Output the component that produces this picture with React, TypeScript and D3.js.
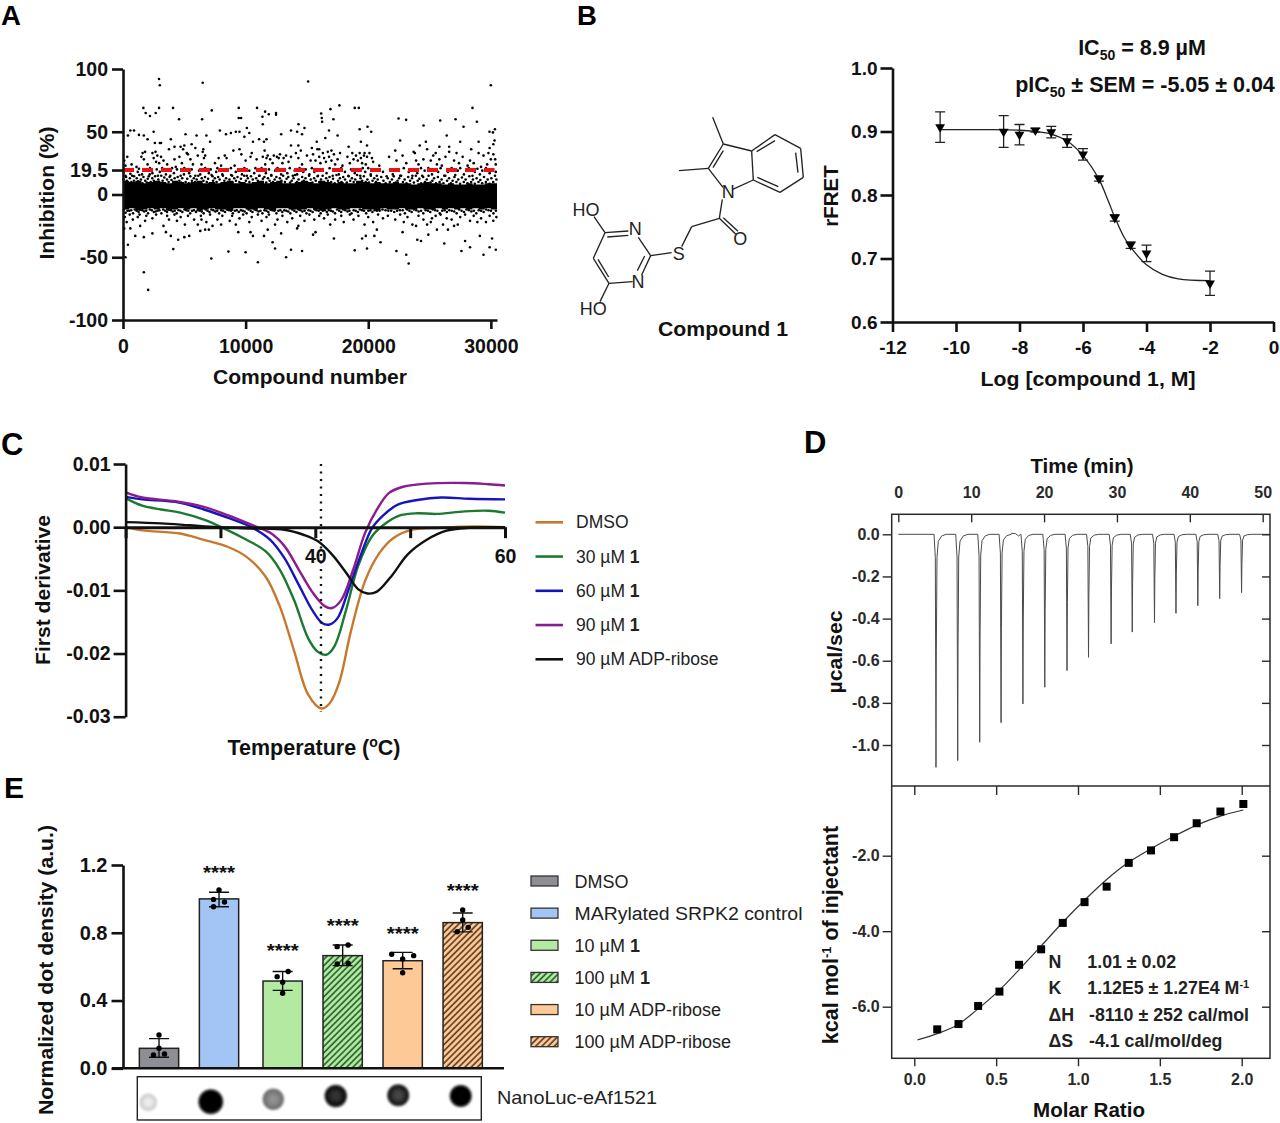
import React, { useEffect, useRef } from 'react';
import * as d3 from 'd3';

type Pt = [number, number];
const SANS = "'Liberation Sans', Arial, sans-serif";

// Panel A. Compound number is stored in hundreds. The solid band is too dense to read
// dot by dot, so it is kept as an envelope per 500 compounds.
const bandHigh = [11, 10, 11, 9, 10, 11, 10, 9, 11, 10, 9, 10, 11, 9, 10, 9, 10, 11, 9, 10, 9, 10, 11, 9, 10, 11, 9, 9, 10, 11, 10, 9, 11, 10, 9, 10, 9, 9, 11, 10, 9, 10, 9, 9, 10, 9, 9, 8, 9, 10, 9, 9, 8, 9, 8, 8, 9, 8, 8, 9, 9, 10];
const bandLow = [-12, -11, -13, -12, -11, -12, -11, -13, -12, -11, -12, -11, -13, -12, -11, -12, -12, -13, -11, -11, -12, -12, -11, -12, -13, -11, -11, -12, -12, -12, -11, -12, -13, -12, -11, -12, -12, -11, -11, -12, -12, -13, -11, -12, -12, -11, -12, -12, -11, -12, -12, -11, -12, -11, -12, -11, -12, -11, -12, -11, -12, -13];
const hitsFar: Pt[] = [[29.4, 92], [30, 87], [65, 89], [151, 90], [300, 87], [16.6, 69], [18.5, 65], [22, 62.5], [26.7, 65], [29.4, 69], [40.8, 69], [45.7, 60], [64.5, 60], [72.4, 67], [94.4, 69], [94.4, 61], [96.3, 61], [109.3, 69], [113.7, 62], [115.9, 66], [118.9, 64], [124.8, 65], [124.8, 63.5], [114, 56], [161.6, 64.5], [162.1, 61], [162.4, 58], [169.2, 68], [171.6, 60], [176.5, 71], [189, 69], [192.3, 69], [230.9, 59.5], [224.7, 60.5], [258.7, 59], [271.2, 60], [285, 69], [288.6, 58], [245.1, 55], [143.1, 56], [199.4, 54], [202.4, 50], [277.7, 54], [303.3, 52], [298.9, 50], [301.7, 49.5],
  [4, 47], [6, 51], [9, 51], [13, 47.5], [17, 47], [20, 44], [25, 50], [26, 41], [30, 41], [31, 41], [39, 44], [42, 38], [47, 38], [49, 36], [51, 48], [50, 39], [53, 32], [56, 40], [59, 37], [60, 47], [65, 34], [68, 47], [71, 42], [79, 51], [84, 48], [88, 49], [92, 50], [95, 50], [99, 46], [101, 53], [103, 49], [106, 42], [111, 44], [115, 42], [117, 44], [129, 48], [137, 51], [142, 50], [146, 48], [137, 39], [148, 53], [143, 39], [154, 37], [160, 36], [165, 45], [158, 42], [168, 51], [175, 47], [170, 35], [184, 38], [193, 52], [194, 42], [199, 39], [226, 43], [238, 33], [247, 42], [242, 39], [258, 38], [266, 38], [264, 47], [275, 42], [284, 36], [290, 42], [299, 37], [302, 40], [303, 43]];
const hitsMid: Pt[] = [[1, 27], [2, 23], [3.5, 30], [7, 24], [11, 22], [15, 30], [16, 33], [17, 28], [18, 34], [20, 24], [24, 33], [25, 29], [26.5, 34], [27, 26], [28, 31], [29.5, 25], [31, 30], [33, 27], [36, 24], [37.5, 36], [42, 28], [43, 22], [46, 30], [48, 25], [52, 33], [55, 28], [57, 24], [61, 31], [64, 24], [65.5, 36], [66, 29], [67, 31], [75, 25], [78, 29], [80, 23], [83, 31], [84.5, 29], [90, 35], [91, 23], [95, 36], [96.5, 32], [100, 27], [104, 30], [105, 33], [109, 28], [114, 30], [115.5, 35], [116, 24], [117, 29], [118, 31], [120, 28], [122, 25], [123, 31], [125.5, 30], [127, 29], [128, 32], [130, 25], [131, 29], [133, 31], [135, 26], [137, 30], [141, 33], [143, 29], [145, 35], [146, 24], [150, 31], [153, 27], [155, 32], [157, 27], [158.5, 36], [160, 30], [161, 25], [163, 33], [164, 29], [165.5, 26], [167, 34], [168, 30], [170, 27], [172, 32], [173, 24], [175, 28], [177, 33], [179, 23], [183, 30], [185, 25], [187, 33], [188, 28], [190, 31], [191.5, 27], [193, 33], [194, 29], [195, 25], [196.5, 31], [197, 33], [198, 24], [199, 30], [201, 33], [203, 29], [204, 26], [209, 23], [217, 30], [222, 35], [223, 27], [228, 31], [231, 25], [237, 34], [239, 27], [241, 24], [245, 28], [248, 36], [251, 27], [253, 31], [255, 33], [256, 24], [258, 28], [260, 23], [263, 30], [266, 34], [270, 27], [272, 33], [274, 25], [277, 30], [281, 23], [283, 27], [286, 25], [290, 33], [292, 22], [294, 31], [297, 24], [298, 33], [300, 28], [302, 32], [303.5, 28], [304, 24]];
const hitsNear: Pt[] = [[0.5, 18], [2, 15], [5, 20], [6, 16.5], [9, 14.5], [12, 18], [13, 20.5], [15.5, 16], [19, 19], [21, 14.5], [22, 21], [24, 17], [27.5, 20], [28.5, 15], [30, 18], [32, 21], [35, 16], [36.5, 19], [38, 14], [40, 21], [41.5, 17], [44, 20], [47, 15], [49, 19], [50, 21], [54, 17], [56, 20], [59, 15], [62, 19], [63, 16], [67, 21], [70, 17], [71.5, 20], [73, 14.5], [76, 18], [77, 21], [81, 16], [85, 19], [88, 21], [89, 15], [92, 18], [94, 20], [97, 16], [99, 21], [101, 15], [103, 19], [107, 17], [108, 21], [111, 15], [112.5, 19], [113, 21], [116.5, 17], [119, 20], [121, 15], [124, 19], [126, 21], [129, 16], [132, 20], [134, 17], [136, 21], [138.5, 15], [140, 19], [142, 16], [144, 21], [147, 18], [149, 20], [152, 16], [154, 21], [156, 18], [159, 15], [162, 20], [166, 17], [168.5, 21], [171, 15], [174, 19], [176, 16], [178, 21], [181, 18], [184, 14.5], [186, 20], [189, 17], [192, 20], [193.5, 15], [195.5, 21], [197.5, 18], [200, 21], [202, 16], [205, 19], [207, 15], [212, 18], [215, 14.5], [218, 20], [220, 16], [224, 19], [226, 15], [229, 21], [233, 18], [236, 15], [238, 20], [240, 17], [243, 21], [244, 15], [246, 19], [249, 21], [252, 16], [254, 20], [257, 18], [259, 21], [262, 15], [265, 18], [268, 21], [271, 15.5], [273, 19], [275, 21], [278, 16], [280, 19], [282, 21], [285, 15], [287, 18], [289, 20.5], [291, 16], [293, 19], [296, 21], [299, 17], [301, 20], [304, 18]];
const hitsEdgeUp: Pt[] = [[0.4, 12], [1.2, 9], [2.5, 14], [3.1, 11], [4.2, 9.5], [5.6, 13], [6.8, 10], [7.4, 15], [8.9, 11], [10.1, 9], [11.2, 13], [12.4, 10.5], [13.3, 15.5], [14.6, 12], [15.9, 9], [16.7, 14], [18.1, 11], [19.4, 9.5], [20.2, 12.5], [21.8, 16], [22.6, 10], [23.9, 13], [25.1, 11], [26.2, 14.5], [27.3, 9], [28.8, 12], [29.6, 10], [31.2, 15], [32.3, 11], [33.7, 13.5], [34.4, 9], [35.9, 12], [37.2, 10], [38.6, 15], [39.5, 11.5], [40.8, 9], [42.1, 13], [43.3, 10], [44.6, 14], [45.9, 11], [47.4, 9.5], [48.3, 13], [49.7, 16], [51.1, 10], [52.4, 12.5], [53.6, 9], [54.9, 14.5], [56.2, 11], [57.8, 13], [58.7, 10], [60.1, 12], [61.4, 15], [62.9, 9.5], [64.2, 13], [65.6, 11], [66.9, 14], [68.3, 10], [69.4, 12.5], [70.7, 9], [72.2, 15.5], [73.5, 11], [74.9, 13], [76.3, 10], [77.6, 14], [78.8, 12], [80.3, 9], [81.5, 15], [82.7, 11], [84.1, 13], [85.4, 10], [86.8, 12], [88.2, 15.5], [89.3, 9.5], [90.7, 13], [92.1, 11], [93.4, 14], [94.9, 10], [96.2, 12.5], [97.7, 9], [98.9, 15], [100.2, 11], [101.8, 13], [103.1, 10], [104.4, 14.5], [105.8, 12], [107.3, 9], [108.6, 13], [109.9, 11], [111.4, 15], [112.7, 10], [114.1, 12.5], [115.3, 14], [116.8, 9.5], [118.2, 13], [119.6, 11], [120.9, 15.5], [122.3, 10], [123.7, 12], [125.1, 14], [126.4, 9], [127.9, 13], [129.2, 11], [130.6, 15], [132.1, 10], [133.4, 12.5], [134.8, 14], [136.3, 9.5], [137.6, 11], [139.1, 13], [140.4, 15.5], [141.9, 10], [143.2, 12], [144.7, 9], [146.1, 14], [147.4, 11], [148.8, 13], [150.2, 10], [151.7, 15], [153.1, 12], [154.4, 9.5], [155.9, 13], [157.2, 11], [158.7, 14.5], [160.1, 10], [161.5, 12], [162.8, 15], [164.3, 9], [165.7, 13], [167.1, 11], [168.4, 14], [169.8, 10], [171.3, 12.5], [172.6, 9], [174.1, 15.5], [175.4, 11], [176.9, 13], [178.2, 10], [179.6, 14], [181.1, 12], [182.5, 9.5], [183.8, 15], [185.3, 11], [186.7, 13], [188.1, 10], [189.4, 12], [190.9, 15.5], [192.3, 9], [193.7, 13], [195.1, 11], [196.4, 14.5], [197.9, 10], [199.3, 12], [200.6, 9.5], [202.1, 15], [203.5, 11], [204.9, 13], [206.3, 10], [207.7, 12], [209.1, 9], [210.6, 14], [212.4, 11], [214.2, 9], [215.9, 13], [217.6, 10], [219.3, 12], [220.8, 14.5], [222.4, 9.5], [223.9, 11], [225.2, 13], [226.8, 15], [228.3, 10], [229.7, 12], [231.2, 9], [232.6, 14], [234.1, 11], [235.7, 13], [237.2, 9.5], [238.8, 15], [240.3, 11], [241.7, 12.5], [243.2, 9], [244.8, 14], [246.3, 10], [247.7, 12], [249.2, 15], [250.8, 9.5], [252.3, 11], [253.7, 13], [255.3, 9], [256.8, 14], [258.2, 10], [259.8, 12], [261.3, 9], [262.8, 15], [264.3, 11], [265.9, 13], [267.4, 9], [268.8, 11], [270.3, 14], [271.9, 10], [273.4, 12], [274.9, 8.5], [276.4, 13.5], [277.9, 10], [279.4, 12], [280.9, 9], [282.4, 14.5], [283.9, 10], [285.4, 12], [286.9, 8.5], [288.4, 13], [289.9, 10], [291.4, 11.5], [292.9, 9], [294.4, 14], [295.9, 10], [297.4, 12], [298.9, 8.5], [300.4, 13], [301.9, 10], [303.4, 15], [304.5, 12]];
const hitsEdgeDown: Pt[] = [[0.8, -12], [2.1, -14.5], [3.6, -13], [5.1, -13], [6.7, -12.5], [8.2, -15], [9.6, -12], [11.1, -13], [12.7, -14], [14.2, -12], [15.8, -12.5], [17.3, -13.5], [18.9, -13], [20.4, -15], [21.9, -12], [23.5, -12.5], [25.1, -14], [26.6, -13.5], [28.2, -13], [29.7, -12.5], [31.3, -15], [32.8, -12], [34.4, -13], [35.9, -14], [37.5, -12], [39.1, -12.5], [40.6, -13.5], [42.2, -13], [43.8, -15], [45.3, -12.5], [46.9, -13], [48.4, -14], [50.1, -12], [51.6, -12.5], [53.2, -13], [54.8, -15], [56.3, -13], [57.9, -12.5], [59.5, -14], [61.1, -12.5], [62.6, -13], [64.2, -13.5], [65.8, -15], [67.4, -12], [68.9, -13], [70.5, -14], [72.1, -12], [73.7, -12.5], [75.3, -13.5], [76.8, -13], [78.4, -15], [80.1, -12.5], [81.6, -13], [83.2, -14], [84.8, -12], [86.4, -12.5], [88.1, -13], [89.6, -15], [91.2, -13], [92.8, -12.5], [94.4, -14], [96.1, -12.5], [97.6, -13], [99.2, -13.5], [100.8, -15], [102.4, -12], [104.1, -13], [105.6, -14], [107.3, -12], [108.9, -12.5], [110.5, -13.5], [112.1, -13], [113.7, -15], [115.3, -12.5], [116.9, -13], [118.5, -14], [120.2, -12], [121.8, -12.5], [123.4, -13], [125.1, -15], [126.7, -13], [128.3, -12.5], [129.9, -14], [131.6, -12.5], [133.2, -13], [134.8, -13.5], [136.5, -15], [138.1, -12], [139.7, -13], [141.4, -14], [143.1, -12], [144.7, -12.5], [146.3, -13.5], [148.1, -13], [149.6, -15], [151.3, -12.5], [152.9, -13], [154.6, -14], [156.3, -12], [157.9, -12.5], [159.6, -13], [161.2, -15], [162.9, -13], [164.6, -12.5], [166.2, -14], [167.9, -12.5], [169.6, -13], [171.2, -13.5], [172.9, -15], [174.6, -12], [176.3, -13], [177.9, -14], [179.6, -12], [181.3, -12.5], [183.1, -13.5], [184.7, -13], [186.4, -15], [188.1, -12.5], [189.8, -13], [191.5, -14], [193.2, -12], [194.9, -12.5], [196.6, -13], [198.3, -15], [200.1, -13], [201.7, -12.5], [203.4, -14], [205.2, -12.5], [207.1, -13], [209.3, -13], [211.6, -12], [214.1, -12.5], [216.4, -13], [218.7, -13], [221.2, -14], [223.5, -13], [225.8, -12.5], [228.1, -12.5], [229.9, -15], [231.7, -12], [233.6, -13], [235.4, -14], [237.3, -12], [239.2, -12.5], [241.1, -13.5], [243.1, -13], [244.9, -15], [246.8, -12.5], [248.7, -13], [250.6, -14], [252.6, -12], [254.5, -12.5], [256.4, -13], [258.3, -15], [260.3, -13], [262.2, -12.5], [264.1, -14], [266.1, -12.5], [268.1, -13], [270.1, -13.5], [272.1, -15], [274.1, -12], [276.1, -13], [278.1, -14], [280.1, -12], [282.1, -12.5], [284.1, -13.5], [286.1, -13], [288.1, -15], [290.1, -12.5], [292.1, -13], [294.1, -14], [296.1, -12], [298.1, -12.5], [300.1, -13], [302.1, -15], [304.1, -13]];
const hitsUnder: Pt[] = [[1.5, -18], [3, -22], [5.5, -16], [8, -20], [12, -18], [13.5, -16], [18, -21], [19, -17], [24, -19], [27, -16], [33, -25], [36, -17], [37.5, -20], [42, -16], [44, -21], [47, -18], [50.5, -24], [53, -17], [58, -20], [61, -24], [63.5, -17], [64, -20], [67, -28], [68, -22], [71, -16], [73, -25], [77, -20], [80, -24], [81, -17], [87, -21], [89, -17], [92, -24], [95, -19], [98, -16], [103, -22], [105, -18], [110, -16], [113, -21], [117, -18], [119, -16], [124, -24], [126, -20], [130, -17], [134, -22], [138, -19], [143, -25], [144.5, -17], [148, -21], [152, -16], [156, -20], [160, -17], [164, -19], [167, -16], [169, -24], [173, -20], [178, -17], [180, -22], [185, -16], [188, -20], [192, -17], [197, -24], [200, -18], [204, -22], [208, -16], [212, -19], [216, -17], [222, -20], [226, -16], [229, -22], [232, -18], [236, -24], [239, -25], [241, -17], [245, -20], [248, -24], [251, -22], [252, -19], [255, -17], [259, -16], [261, -24], [264, -19], [268, -20], [273, -24], [275, -18], [279, -16], [283, -21], [286, -17], [289, -22], [292, -19], [296, -22], [299, -17], [302, -21], [304.5, -18]];
const hitsLow: Pt[] = [[1, -27], [2, -50], [4, -40], [6, -27], [10, -33], [14, -25], [17, -34], [17, -62], [20.5, -76], [24, -31], [35, -30], [39, -33], [41, -43.5], [45, -36], [50, -34], [54, -33], [63, -29], [70, -28], [72, -51], [86, -45.5], [94, -30], [100, -46], [104, -30], [106, -33], [110, -54], [115, -33], [118, -28], [122, -38], [124, -43], [129, -31], [133, -50], [137, -44], [142, -27], [146, -45], [155, -32], [157, -30], [172, -35], [189, -44.5], [195, -35], [199, -43], [198, -33], [205, -33], [207, -28], [210, -38], [223, -45], [228, -30], [231, -48], [233, -55], [240, -36], [243, -37], [249, -32], [256, -28], [262, -39], [265, -28], [270, -25], [276, -45], [279, -37], [283, -42], [291, -33], [294, -48], [299, -42], [301, -35], [304, -44]];
const hitThreshold = 19.5;

// Panel B
const doseLog = [-10.5, -8.5, -8, -7.5, -7, -6.5, -6, -5.5, -5, -4.5, -4, -2];
const doseMean = [0.907, 0.9, 0.895, 0.902, 0.899, 0.885, 0.864, 0.826, 0.764, 0.721, 0.708, 0.661];
const doseErr = [0.024, 0.025, 0.016, 0.003, 0.009, 0.01, 0.009, 0.004, 0.005, 0.005, 0.013, 0.019];
const fitLog = [-10.5, -9, -8, -7.5, -7, -6.5, -6, -5.5, -5.2, -5, -4.7, -4.5, -4, -3.5, -3, -2];
const fitFret = [0.903, 0.903, 0.902, 0.9, 0.896, 0.885, 0.862, 0.825, 0.79, 0.765, 0.733, 0.718, 0.69, 0.675, 0.668, 0.665];

// Panel C
const meltNames = ['DMSO', '30 µM ', '60 µM ', '90 µM ', '90 µM ADP-ribose'];
const meltBold = ['', '1', '1', '1', ''];
const meltColors = ['#c8782c', '#1c7a30', '#1616b8', '#8a1c90', '#111111'];
const meltDmso: Pt[] = [[20, 0], [21.75, -0.0005], [25.75, -0.001], [28.25, -0.002], [30.75, -0.0031], [32.75, -0.0047], [34.75, -0.0078], [36.25, -0.0125], [37.75, -0.0195], [39.25, -0.0265], [40.65, -0.0287], [41.5, -0.0279], [42.5, -0.0247], [43.75, -0.0165], [45.25, -0.0085], [46.75, -0.0041], [48.25, -0.0017], [50.25, -0.0004], [53.25, -0.0001], [56.75, 0.0001], [60, 0]];
const melt30: Pt[] = [[20, 0.0046], [21.75, 0.0034], [23.75, 0.0028], [25.75, 0.0023], [28.25, 0.0012], [30.25, -0.0001], [32.75, -0.002], [34.75, -0.0038], [36.25, -0.0067], [37.75, -0.0115], [39.25, -0.0176], [40.25, -0.0197], [41.15, -0.0202], [42, -0.0189], [43.25, -0.0131], [44.5, -0.0062], [46, -0.0014], [47.5, 0.0007], [49, 0.0019], [50.75, 0.0022], [52.75, 0.0021], [55.75, 0.0025], [58.25, 0.0026], [60, 0.0023]];
const melt60: Pt[] = [[20, 0.0048], [21.75, 0.0044], [25.25, 0.004], [28.25, 0.0028], [30.75, 0.0015], [33.25, 0], [35.25, -0.002], [36.75, -0.0049], [38.25, -0.0091], [39.75, -0.0133], [40.75, -0.0152], [41.5, -0.0154], [42.35, -0.0144], [43.5, -0.0099], [44.75, -0.0046], [46, -0.0001], [47.25, 0.002], [48.75, 0.0036], [50.75, 0.0043], [53.25, 0.0047], [56.25, 0.0045], [60, 0.0044]];
const melt90: Pt[] = [[20, 0.0055], [21.75, 0.0047], [25.25, 0.0041], [28.25, 0.0032], [30.75, 0.0019], [33.25, 0.0004], [35.25, -0.0009], [36.75, -0.003], [38.25, -0.0067], [39.75, -0.0104], [41, -0.0125], [41.75, -0.0128], [42.75, -0.0115], [44, -0.0067], [45.25, -0.0009], [46.5, 0.0028], [47.75, 0.0054], [49.25, 0.0064], [51.75, 0.0069], [55.75, 0.007], [58.25, 0.0068], [60, 0.0066]];
const meltAdp: Pt[] = [[20, 0.0008], [23.75, 0.0006], [26.75, 0.0003], [29.75, 0], [33.75, -0.0002], [36.75, -0.0004], [38.75, -0.0012], [40.25, -0.0022], [41.75, -0.0043], [43.25, -0.0072], [44.5, -0.0098], [45.5, -0.0105], [46.5, -0.0102], [48, -0.0078], [49.75, -0.0043], [51.75, -0.002], [53.75, -0.0006], [56.25, -0.0001], [60, 0]];
const meltCurves = [meltDmso, melt30, melt60, melt90, meltAdp];
const meltMidpoint = 40.6;

// Panel D
const injTime = [5.17, 8.15, 11.17, 14.1, 17.1, 20.1, 23.15, 26.1, 29.2, 32.1, 35.15, 38.1, 41.1, 44.1, 47.1];
const injDepth = [-1.106, -1.074, -0.987, -0.894, -0.805, -0.726, -0.647, -0.584, -0.52, -0.464, -0.419, -0.375, -0.339, -0.305, -0.277];
// time after injection (min) and fraction of the peak depth, same for every injection
const injShape: Pt[] = [[-0.27, 0], [-0.09, 0.1], [0, 1], [0.05, 0.5], [0.14, 0.1], [0.32, 0.03], [0.78, 0.007], [1.4, 0]];
const traceBump: Pt[] = [[15.55, 0.005], [16.1, 0.003], [16.5, -0.008], [16.8, 0]];
const ratio = [0.14, 0.27, 0.39, 0.52, 0.64, 0.775, 0.907, 1.04, 1.175, 1.31, 1.446, 1.587, 1.725, 1.87, 2.01];
const heat = [-6.6, -6.46, -5.98, -5.6, -4.89, -4.48, -3.78, -3.23, -2.82, -2.19, -1.86, -1.51, -1.14, -0.83, -0.63];
const itcFitRatio = [0.02, 0.136, 0.26, 0.38, 0.52, 0.666, 0.79, 0.91, 1.03, 1.175, 1.3, 1.44, 1.58, 1.725, 1.87, 2.01];
const itcFitHeat = [-6.88, -6.72, -6.49, -6.09, -5.56, -4.9, -4.32, -3.75, -3.22, -2.63, -2.2, -1.83, -1.5, -1.19, -0.95, -0.79];

// Panel E
const dotGroups = ['DMSO', 'MARylated SRPK2 control', '10 µM ', '100 µM ', '10 µM ADP-ribose', '100 µM ADP-ribose'];
const dotBold = ['', '', '1', '1', '', ''];
const dotMean = [0.118, 1.0, 0.515, 0.665, 0.635, 0.86];
const dotErrHigh = [0.175, 1.039, 0.571, 0.728, 0.684, 0.917];
const dotErrLow = [0.065, 0.954, 0.46, 0.606, 0.588, 0.805];
const dotReps = [[0.197, 0.118, 0.079, 0.085], [1.052, 0.997, 0.982, 0.954], [0.571, 0.541, 0.508, 0.443], [0.728, 0.718, 0.616, 0.62], [0.673, 0.665, 0.645, 0.564], [0.934, 0.875, 0.832, 0.806]];
const dotSpread = [[0, 0, -1, 1], [0, -1, 1, -1], [1, -1, 0, 0], [1, -1, -1, 1], [-2, 2, 0, 0], [0, 0, 1, -1]];
const dotFills = ['#8e8f94', '#a2c5f6', '#b4e9a2', '#b4e9a2', '#fdc997', '#fdc997'];
const dotHatch = ['', '', '', '#235f2b', '', '#5a3a1e'];
const hasStars = [false, true, true, true, true, true];
const starLevel = [0, 1.165, 0.703, 0.851, 0.807, 1.058];
// grey level of the blot spot at its middle and at its rim
const blotCore = [0.04, 1, 0.42, 0.8, 0.72, 1];
const blotRim = [0.16, 1, 0.55, 0.95, 0.92, 1];

// atoms of compound 1, in a 3x grid
const molBonds = [[458, 52, 490, 132], [490, 132, 445, 205], [490, 152, 459, 203], [445, 205, 357, 212], [445, 205, 489, 262], [490, 132, 575, 153], [575, 153, 580, 240], [575, 153, 645, 104], [590, 155, 645, 122], [645, 104, 722, 145], [722, 145, 730, 232], [707, 158, 714, 218], [730, 232, 660, 277], [660, 277, 580, 240], [655, 260, 592, 232], [580, 240, 518, 268], [487, 298, 478, 355], [478, 355, 395, 380], [478, 355, 527, 402], [490, 353, 534, 394], [395, 380, 365, 440], [335, 458, 272, 467], [272, 467, 235, 412], [272, 467, 245, 525], [254, 468, 232, 512], [218, 545, 147, 550], [147, 550, 100, 475], [146, 531, 114, 478], [100, 475, 135, 398], [135, 398, 205, 393], [142, 411, 205, 406], [135, 398, 102, 350], [147, 550, 120, 605]];
const molAtoms: [string, number, number][] = [['N', 505, 293], ['O', 541, 436], ['S', 356, 481], ['N', 226, 406], ['N', 234, 565], ['HO', 78, 349], ['HO', 100, 645]];

type G = d3.Selection<SVGGElement, unknown, null, undefined>;

// d3.format writes a true minus, the figure uses a hyphen
const fixed = (n: number) => (d: any) => d3.format(`.${n}f`)(d).replace('\u2212', '-');

function label(g: any, x: number, y: number, str: string, o: any = {}) {
  const t = g.append('text')
    .attr('x', o.rot ? 0 : x)
    .attr('y', o.rot ? 0 : y)
    .attr('font-family', SANS)
    .attr('font-size', o.size ?? 20.5)
    .attr('font-weight', o.weight ?? 'bold')
    .attr('text-anchor', o.anchor ?? 'middle')
    .attr('fill', o.fill ?? '#111')
    .text(str);
  if (o.rot) t.attr('transform', `translate(${x},${y}) rotate(-90)`);
  if (o.w) t.attr('textLength', o.w).attr('lengthAdjust', 'spacingAndGlyphs');
  return t;
}

function styleAxis(a: any, size: number, stroke = 2.6, color = '#111') {
  a.selectAll('path').attr('stroke-width', stroke).attr('stroke', color);
  a.selectAll('line').attr('stroke-width', stroke).attr('stroke', color);
  a.selectAll('text')
    .attr('font-family', SANS).attr('font-weight', 'bold')
    .attr('font-size', size).attr('fill', color);
}

function panelA(svg: G) {
  const x = d3.scaleLinear().domain([0, 30500]).range([123, 497]);
  const y = d3.scaleLinear().domain([-100, 100]).range([320, 69]);

  const band = d3.area<number>()
    .x((_, i) => x(i * 500))
    .y0((_, i) => y(bandLow[i]))
    .y1(d => y(d))
    .curve(d3.curveStepAfter);
  svg.append('path').attr('d', band(bandHigh)).attr('fill', '#000');

  const dots = [...hitsFar, ...hitsMid, ...hitsNear, ...hitsEdgeUp, ...hitsEdgeDown, ...hitsUnder, ...hitsLow];
  svg.append('g').selectAll('circle').data(dots).join('circle')
    .attr('cx', d => x(d[0] * 100)).attr('cy', d => y(d[1]))
    .attr('r', 1.3).attr('fill', '#000');

  svg.append('line')
    .attr('x1', x(0)).attr('x2', x(30300))
    .attr('y1', y(hitThreshold)).attr('y2', y(hitThreshold))
    .attr('stroke', '#e8141c').attr('stroke-width', 4)
    .attr('stroke-dasharray', '11 8');

  const ax = svg.append('g').attr('transform', `translate(123,0)`)
    .call(d3.axisLeft(y).tickValues([100, 50, 19.5, 0, -50, -100]).tickSize(11).tickSizeOuter(0).tickPadding(4).tickFormat(d => String(d)));
  styleAxis(ax, 19.5);
  const bx = svg.append('g').attr('transform', `translate(0,320)`)
    .call(d3.axisBottom(x).tickValues([0, 10000, 20000, 30000]).tickSize(9).tickSizeOuter(0).tickPadding(10).tickFormat(d => String(d)));
  styleAxis(bx, 19.5);

  label(svg, 54, 193, 'Inhibition (%)', { rot: true, w: 133 });
  label(svg, 310, 384, 'Compound number', { w: 194 });
}

function panelB(svg: G) {
  const x = d3.scaleLinear().domain([-12, 0]).range([892.5, 1273.5]);
  const y = d3.scaleLinear().domain([0.6, 1]).range([322, 68]);

  const line = d3.line<number>().x((_, i) => x(fitLog[i])).y(d => y(d)).curve(d3.curveCatmullRom);
  svg.append('path').attr('d', line(fitFret)).attr('fill', 'none').attr('stroke', '#222').attr('stroke-width', 1.3);

  const pts = svg.append('g').selectAll('g').data(doseLog).join('g')
    .attr('transform', (d, i) => `translate(${x(d)},0)`);
  pts.append('path')
    .attr('d', (_, i) => `M-5,${y(doseMean[i] + doseErr[i])}H5M0,${y(doseMean[i] + doseErr[i])}V${y(doseMean[i] - doseErr[i])}M-5,${y(doseMean[i] - doseErr[i])}H5`)
    .attr('fill', 'none').attr('stroke', '#222').attr('stroke-width', 1.3);
  pts.append('path')
    .attr('d', d3.symbol(d3.symbolTriangle, 42)())
    .attr('transform', (_, i) => `translate(0,${y(doseMean[i])}) rotate(180)`)
    .attr('fill', '#000');

  const ax = svg.append('g').attr('transform', `translate(892.5,0)`)
    .call(d3.axisLeft(y).tickValues([0.6, 0.7, 0.8, 0.9, 1]).tickSize(12).tickSizeOuter(0).tickPadding(3).tickFormat(fixed(1)));
  styleAxis(ax, 19);
  const bx = svg.append('g').attr('transform', `translate(0,322)`)
    .call(d3.axisBottom(x).tickValues([-12, -10, -8, -6, -4, -2, 0]).tickSize(10).tickSizeOuter(0).tickPadding(9).tickFormat(d => String(d)));
  styleAxis(bx, 19);

  label(svg, 838, 196, 'rFRET', { rot: true });
  label(svg, 1088, 386, 'Log [compound 1, M]', { w: 215 });

  const t1 = label(svg, 1142, 55, 'IC', { size: 21.5 });
  t1.append('tspan').attr('dy', 5).attr('font-size', 14).text('50');
  t1.append('tspan').attr('dy', -5).text(' = 8.9 µM');
  const t2 = label(svg, 1145, 92, 'pIC', { size: 21.5 });
  t2.append('tspan').attr('dy', 5).attr('font-size', 14).text('50');
  t2.append('tspan').attr('dy', -5).text(' ± SEM = -5.05 ± 0.04');

  const mol = svg.append('g').attr('transform', 'translate(560,100) scale(0.3333)');
  mol.append('g').selectAll('line').data(molBonds).join('line')
    .attr('x1', d => d[0]).attr('y1', d => d[1]).attr('x2', d => d[2]).attr('y2', d => d[3])
    .attr('stroke', '#222').attr('stroke-width', 4);
  molAtoms.forEach(([s, ax2, ay]) => label(mol, ax2, ay, s, { size: 54, weight: 'normal', fill: '#222' }));
  label(svg, 723, 336, 'Compound 1', { w: 130 });
}

function panelC(svg: G) {
  const x = d3.scaleLinear().domain([20, 60]).range([125.6, 505]);
  const y = d3.scaleLinear().domain([-0.03, 0.01]).range([716.7, 464]);

  const line = d3.line<Pt>().x(d => x(d[0])).y(d => y(d[1])).curve(d3.curveCatmullRom);
  meltCurves.forEach((c, i) => {
    svg.append('path').attr('d', line(c)).attr('fill', 'none')
      .attr('stroke', meltColors[i]).attr('stroke-width', 2.4);
  });
  svg.append('line')
    .attr('x1', x(meltMidpoint)).attr('x2', x(meltMidpoint))
    .attr('y1', y(0.01)).attr('y2', 712)
    .attr('stroke', '#111').attr('stroke-width', 2.4)
    .attr('stroke-dasharray', '2 5.5');

  const bx = svg.append('g').attr('transform', `translate(0,${y(0)})`)
    .call(d3.axisBottom(x).tickValues([20, 30, 40, 50, 60]).tickSize(11).tickSizeOuter(0).tickPadding(11)
      .tickFormat(d => (d === 40 || d === 60 ? String(d) : '')));
  styleAxis(bx, 19.5, 3);
  const ax = svg.append('g').attr('transform', `translate(125.6,0)`)
    .call(d3.axisLeft(y).tickValues([0.01, 0, -0.01, -0.02, -0.03]).tickSize(12).tickSizeOuter(0).tickPadding(3).tickFormat(fixed(2)));
  styleAxis(ax, 19.5);

  label(svg, 50, 590, 'First derivative', { rot: true, w: 150 });
  const t = label(svg, 314, 755, 'Temperature (', { size: 21.5 });
  t.append('tspan').attr('dy', -8).attr('font-size', 14).text('o');
  t.append('tspan').attr('dy', 8).text('C)');

  const rows = d3.scalePoint<string>().domain(meltNames.map((_, i) => String(i))).range([522.3, 659.3]);
  meltNames.forEach((name, i) => {
    const ry = rows(String(i))!;
    svg.append('line').attr('x1', 535.5).attr('x2', 563).attr('y1', ry).attr('y2', ry)
      .attr('stroke', meltColors[i]).attr('stroke-width', 2.6);
    const tx = label(svg, 576, ry + 6, name, { size: 17.5, weight: 'normal', anchor: 'start', fill: '#222' });
    if (meltBold[i]) tx.append('tspan').attr('font-weight', 'bold').text(meltBold[i]);
  });
}

function panelD(svg: G) {
  const frameL = 891.7, frameR = 1270, top = 514.3, mid = 786, bottom = 1058.3;
  const INK = '#2a2a2a';

  // upper thermogram
  const xT = d3.scaleLinear().domain([0, 50]).range([898.3, 1262.7]);
  const yT = d3.scaleLinear().domain([-1, 0]).range([745, 534.3]);
  const trace: Pt[] = [[0, 0], ...traceBump];
  injTime.forEach((t, i) => {
    injShape.forEach(([dt, f]) => trace.push([t + dt, injDepth[i] * f]));
  });
  trace.push([51, 0]);
  trace.sort((a, b) => a[0] - b[0]);
  svg.append('path')
    .attr('d', d3.line<Pt>().x(d => xT(d[0])).y(d => yT(d[1]))(trace))
    .attr('fill', 'none').attr('stroke', '#4a4a4a').attr('stroke-width', 1);

  // lower isotherm
  const xR = d3.scaleLinear().domain([0, 2]).range([914.3, 1241.7]);
  const yH = d3.scaleLinear().domain([-6, -2]).range([1006.7, 855.7]);
  svg.append('path')
    .attr('d', d3.line<number>().x((_, i) => xR(itcFitRatio[i])).y(d => yH(d)).curve(d3.curveCatmullRom)(itcFitHeat))
    .attr('fill', 'none').attr('stroke', '#333').attr('stroke-width', 1.2);
  svg.append('g').selectAll('rect').data(ratio).join('rect')
    .attr('x', d => xR(d) - 4).attr('y', (_, i) => yH(heat[i]) - 4)
    .attr('width', 8).attr('height', 8).attr('fill', '#000');

  svg.append('rect').attr('x', frameL).attr('y', top).attr('width', frameR - frameL).attr('height', bottom - top)
    .attr('fill', 'none').attr('stroke', INK).attr('stroke-width', 1.5);
  svg.append('line').attr('x1', frameL).attr('x2', frameR).attr('y1', mid).attr('y2', mid)
    .attr('stroke', INK).attr('stroke-width', 1.5);

  const axes = [
    svg.append('g').attr('transform', `translate(0,${top})`).call(d3.axisTop(xT).tickValues(d3.range(0, 51, 10)).tickSize(-8).tickSizeOuter(0).tickPadding(16).tickFormat(d => String(d))),
    svg.append('g').attr('transform', `translate(${frameL},0)`).call(d3.axisLeft(yT).tickValues([0, -0.2, -0.4, -0.6, -0.8, -1]).tickSize(9).tickSizeOuter(0).tickPadding(3).tickFormat(fixed(1))),
    svg.append('g').attr('transform', `translate(${frameR},0)`).call(d3.axisRight(yT).tickValues([0, -0.2, -0.4, -0.6, -0.8, -1]).tickSize(-8).tickSizeOuter(0).tickFormat(() => '')),
    svg.append('g').attr('transform', `translate(0,${mid})`).call(d3.axisTop(xR).tickValues([0, 0.5, 1, 1.5, 2]).tickSize(-9).tickSizeOuter(0).tickFormat(() => '')),
    svg.append('g').attr('transform', `translate(0,${bottom})`).call(d3.axisBottom(xR).tickValues([0, 0.5, 1, 1.5, 2]).tickSize(8).tickSizeOuter(0).tickPadding(7).tickFormat(fixed(1))),
    svg.append('g').attr('transform', `translate(${frameL},0)`).call(d3.axisLeft(yH).tickValues([-2, -4, -6]).tickSize(9).tickSizeOuter(0).tickPadding(3).tickFormat(fixed(1))),
    svg.append('g').attr('transform', `translate(${frameR},0)`).call(d3.axisRight(yH).tickValues([-2, -4, -6]).tickSize(-8).tickSizeOuter(0).tickFormat(() => '')),
  ];
  axes.forEach(a => {
    styleAxis(a, 16, 1.4, INK);
    a.select('path').remove();
  });

  label(svg, 1082, 473, 'Time (min)', { w: 103 });
  label(svg, 1089, 1117, 'Molar Ratio', { w: 112 });
  label(svg, 842, 652, 'µcal/sec', { rot: true, w: 83 });
  const ky = label(svg, 838, 935, 'kcal mol', { rot: true, size: 21.5 });
  ky.append('tspan').attr('dy', -7).attr('font-size', 13).text('-1');
  ky.append('tspan').attr('dy', 7).text('  of injectant');

  const stats: [string, string, number][] = [['N', '1.01 ± 0.02', 968], ['K', '1.12E5 ± 1.27E4 M', 994], ['ΔH', '-8110 ± 252 cal/mol', 1020.5], ['ΔS', '-4.1 cal/mol/deg', 1047]];
  stats.forEach(([k, v, by], i) => {
    label(svg, 1048.5, by, k, { size: 17.8, anchor: 'start', fill: '#222' });
    const tv = label(svg, i > 1 ? 1089 : 1087.3, by, v, { size: 17.8, anchor: 'start', fill: '#222' });
    if (i === 1) tv.append('tspan').attr('dy', -6).attr('font-size', 11).text('-1');
  });
}

function panelE(svg: G) {
  const slot = (i: number) => i + (i > 1 ? 0.06 : 0);
  const x = d3.scaleLinear().domain([0, 5.06]).range([159, 462.7]);
  const y = d3.scaleLinear().domain([0, 1.2]).range([1068.3, 865]);
  const barW = 39.3;

  const defs = svg.append('defs');
  dotHatch.forEach((c, i) => {
    if (!c) return;
    const p = defs.append('pattern').attr('id', `hatch${i}`).attr('patternUnits', 'userSpaceOnUse')
      .attr('width', 4.4).attr('height', 4.4).attr('patternTransform', 'rotate(45)');
    p.append('rect').attr('width', 4.4).attr('height', 4.4).attr('fill', dotFills[i]);
    p.append('line').attr('x1', 1).attr('x2', 1).attr('y1', 0).attr('y2', 4.4).attr('stroke', c).attr('stroke-width', 1.6);
  });
  const fillOf = (i: number) => (dotHatch[i] ? `url(#hatch${i})` : dotFills[i]);

  dotGroups.forEach((_, i) => {
    const cx = x(slot(i));
    svg.append('rect').attr('x', cx - barW / 2).attr('y', y(dotMean[i]))
      .attr('width', barW).attr('height', y(0) - y(dotMean[i]))
      .attr('fill', fillOf(i)).attr('stroke', '#222').attr('stroke-width', 1.5);
    svg.append('path')
      .attr('d', `M${cx - 10},${y(dotErrHigh[i])}H${cx + 10}M${cx},${y(dotErrHigh[i])}V${y(dotErrLow[i])}M${cx - 10},${y(dotErrLow[i])}H${cx + 10}`)
      .attr('fill', 'none').attr('stroke', '#111').attr('stroke-width', 1.4);
    dotReps[i].forEach((v, j) => {
      svg.append('circle').attr('cx', cx + dotSpread[i][j] * 5.5).attr('cy', y(v)).attr('r', 2.7).attr('fill', '#000');
    });
    if (hasStars[i]) label(svg, cx, y(starLevel[i]) + 8, '****', { size: 19, fill: '#111', w: 32 });
  });

  const ax = svg.append('g').attr('transform', `translate(123,0)`)
    .call(d3.axisLeft(y).tickValues([0, 0.4, 0.8, 1.2]).tickSize(11.5).tickSizeOuter(0).tickPadding(4).tickFormat(fixed(1)));
  styleAxis(ax, 20);
  const bx = svg.append('g').attr('transform', `translate(0,${y(0)})`);
  bx.append('line').attr('x1', 112).attr('x2', 504).attr('stroke', '#111').attr('stroke-width', 2.6);

  label(svg, 53, 970, 'Normalized dot density (a.u.)', { rot: true, w: 290 });

  // blot strip
  svg.append('rect').attr('x', 137.3).attr('y', 1076.7).attr('width', 344).attr('height', 43.3)
    .attr('fill', '#fff').attr('stroke', '#222').attr('stroke-width', 1.4);
  const grey = d3.scaleLinear<string>().domain([0, 1]).range(['#f6f6f6', '#000']);
  const blotX = d3.scalePoint<number>().domain(d3.range(6)).range([148.3, 460.7]);
  const blotY = [1102.3, 1101.7, 1099.3, 1096, 1095.3, 1096];
  const blotR = [9, 12.7, 11, 11.5, 11.3, 11.3];
  defs.append('filter').attr('id', 'soft').append('feGaussianBlur').attr('stdDeviation', 0.8);
  blotCore.forEach((c, i) => {
    const gr = defs.append('radialGradient').attr('id', `spot${i}`);
    gr.append('stop').attr('offset', '30%').attr('stop-color', grey(c));
    gr.append('stop').attr('offset', '85%').attr('stop-color', grey(blotRim[i]));
    gr.append('stop').attr('offset', '100%').attr('stop-color', grey(blotRim[i] * 0.6));
    svg.append('circle').attr('cx', blotX(i)!).attr('cy', blotY[i]).attr('r', blotR[i])
      .attr('fill', `url(#spot${i})`).attr('filter', 'url(#soft)');
  });
  label(svg, 497, 1104, 'NanoLuc-eAf1521', { size: 18.5, weight: 'normal', anchor: 'start', fill: '#222', w: 160 });

  // legend
  const rows = d3.scalePoint<number>().domain(d3.range(6)).range([881, 1041.7]);
  dotGroups.forEach((name, i) => {
    const ry = rows(i)!;
    svg.append('rect').attr('x', 531).attr('y', ry - 5).attr('width', 27).attr('height', 10)
      .attr('fill', fillOf(i)).attr('stroke', '#333').attr('stroke-width', 1.3);
    const t = label(svg, 574.5, ry + 6.5, name, { size: 18, weight: 'normal', anchor: 'start', fill: '#222' });
    if (i === 1) t.attr('textLength', 228).attr('lengthAdjust', 'spacingAndGlyphs');
    if (dotBold[i]) t.append('tspan').attr('font-weight', 'bold').text(dotBold[i]);
  });
}

export default function App() {
  const ref = useRef<SVGSVGElement>(null);

  useEffect(() => {
    if (!ref.current) return;
    const root = d3.select(ref.current);
    root.selectAll('*').remove();
    const g = root.append('g') as unknown as G;
    panelA(g);
    panelB(g);
    panelC(g);
    panelD(g);
    panelE(g);
    const letters: [string, number, number, number][] = [['A', 1, 25, 27.5], ['B', 577, 25, 27.5], ['C', 1, 455, 31], ['D', 804, 453, 31], ['E', 4, 798, 30]];
    letters.forEach(([s, lx, ly, size]) => label(g, lx, ly, s, { size, anchor: 'start', fill: '#000' }));
  }, []);

  return (
    <svg
      ref={ref}
      width={1280}
      height={1123}
      viewBox="0 0 1280 1123"
      style={{ position: 'absolute', left: 0, top: 0, background: '#fff' }}
    />
  );
}
